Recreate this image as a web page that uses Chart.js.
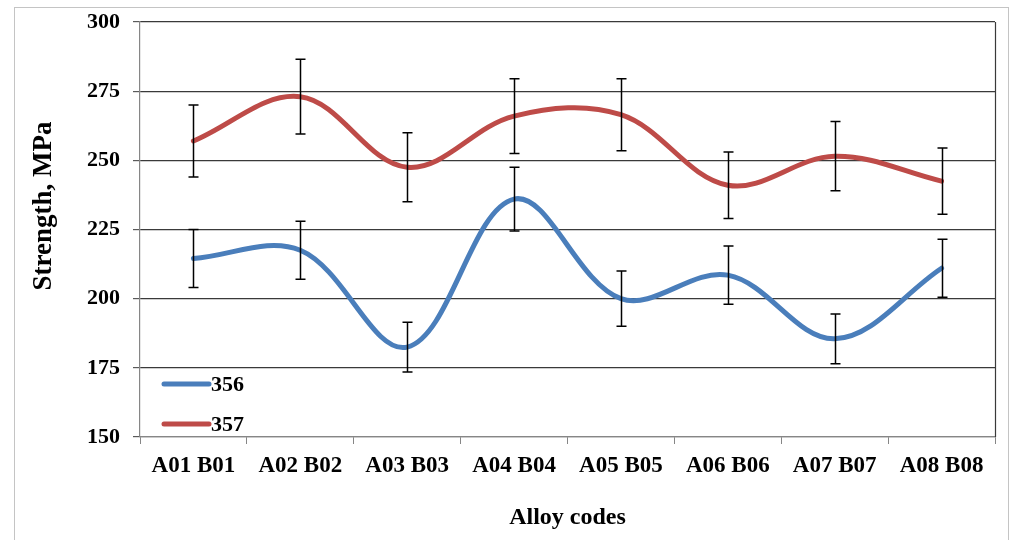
<!DOCTYPE html>
<html>
<head>
<meta charset="utf-8">
<title>Strength by alloy</title>
<script src="https://cdn.jsdelivr.net/npm/chart.js@4/dist/chart.umd.min.js"></script>
<style>
  html, body { margin: 0; padding: 0; background: #fff; }
  #wrap { width: 1013px; height: 540px; position: relative; }
</style>
</head>
<body>
<div id="wrap"><canvas id="chart" width="1013" height="540"></canvas></div>
<script>
// alloy pairs along the x axis
const alloyCodes = ["A01 B01", "A02 B02", "A03 B03", "A04 B04", "A05 B05", "A06 B06", "A07 B07", "A08 B08"];

// mean strength (MPa) and the +/- spread for each alloy
const strength356 = [214.5, 217.5, 182.5, 236, 200, 208.5, 185.5, 211];
const error356    = [10.5, 10.5, 9, 11.5, 10, 10.5, 9, 10.5];
const strength357 = [257, 273, 247.5, 266, 266.5, 241, 251.5, 242.5];
const error357    = [13, 13.5, 12.5, 13.5, 13, 12, 12.5, 12];

const yTicks = { min: 150, max: 300, step: 25 };
const yTitle = "Strength, MPa";
const xTitle = "Alloy codes";

const FONT = "'Liberation Serif', 'Times New Roman', serif";
const BLUE = "#4A7EBB";
const RED = "#BE4B48";

// frame, right edge, y title and the in-plot legend
const decorations = {
  id: "decorations",
  beforeDraw(chart) {
    const ctx = chart.ctx;
    ctx.save();
    ctx.fillStyle = "#fff";
    ctx.fillRect(0, 0, chart.width, chart.height);
    ctx.strokeStyle = "#c4c4c4";
    ctx.lineWidth = 1;
    ctx.strokeRect(14.5, 7.5, 994, chart.height);
    ctx.restore();
  },
  afterDraw(chart) {
    const ctx = chart.ctx;
    const area = chart.chartArea;
    ctx.save();
    ctx.strokeStyle = "#3a3a3a";
    ctx.lineWidth = 1.2;
    ctx.beginPath();
    ctx.moveTo(Math.round(area.right) + 0.5, area.top);
    ctx.lineTo(Math.round(area.right) + 0.5, area.bottom);
    ctx.stroke();

    ctx.fillStyle = "#000";
    ctx.font = "bold 27px " + FONT;
    ctx.textAlign = "center";
    ctx.textBaseline = "middle";
    ctx.translate(44, 206);
    ctx.rotate(-Math.PI / 2);
    ctx.fillText(yTitle, 0, 0);
    ctx.restore();

    // legend, one row per dataset
    ctx.save();
    ctx.font = "bold 22px " + FONT;
    ctx.textAlign = "left";
    ctx.textBaseline = "middle";
    chart.data.datasets.forEach((ds, i) => {
      const y = 384 + i * 40;
      ctx.strokeStyle = ds.borderColor;
      ctx.lineWidth = 5;
      ctx.lineCap = "round";
      ctx.beginPath();
      ctx.moveTo(164, y);
      ctx.lineTo(209, y);
      ctx.stroke();
      ctx.fillStyle = "#000";
      ctx.fillText(ds.label, 211, y + 1);
    });
    ctx.restore();
  },
  afterDatasetsDraw(chart) {
    const ctx = chart.ctx;
    const yScale = chart.scales.y;
    ctx.save();
    ctx.strokeStyle = "#000";
    ctx.lineWidth = 1.5;
    chart.data.datasets.forEach((ds, i) => {
      const meta = chart.getDatasetMeta(i);
      meta.data.forEach((pt, j) => {
        const v = ds.data[j];
        const e = ds.errors[j];
        const x = Math.round(pt.x) + 0.5;
        const top = yScale.getPixelForValue(v + e);
        const bot = yScale.getPixelForValue(v - e);
        ctx.beginPath();
        ctx.moveTo(x, top);
        ctx.lineTo(x, bot);
        ctx.moveTo(x - 5, top);
        ctx.lineTo(x + 5, top);
        ctx.moveTo(x - 5, bot);
        ctx.lineTo(x + 5, bot);
        ctx.stroke();
      });
    });
    ctx.restore();
  }
};

new Chart(document.getElementById("chart"), {
  type: "line",
  data: {
    labels: alloyCodes,
    datasets: [
      { label: "356", data: strength356, errors: error356, borderColor: BLUE, backgroundColor: BLUE },
      { label: "357", data: strength357, errors: error357, borderColor: RED, backgroundColor: RED }
    ]
  },
  options: {
    responsive: false,
    animation: false,
    layout: { padding: { left: 0, right: 18, top: 22, bottom: 0 } },
    elements: {
      line: { borderWidth: 5, tension: 0.36, borderCapStyle: "round" },
      point: { radius: 0, hoverRadius: 0 }
    },
    plugins: { legend: { display: false }, tooltip: { enabled: false } },
    scales: {
      x: {
        offset: true,
        afterFit(scale) { scale.height = 103; },
        grid: { offset: true, drawOnChartArea: false, drawTicks: true, tickLength: 7, color: "#868686" },
        border: { color: "#868686", width: 1.2 },
        ticks: { color: "#000", padding: 8, maxRotation: 0, font: { family: FONT, size: 23, weight: "bold" } },
        title: { display: true, text: xTitle, color: "#000", padding: { top: 4, bottom: 8 }, font: { family: FONT, size: 24, weight: "bold" } }
      },
      y: {
        min: yTicks.min,
        max: yTicks.max,
        afterFit(scale) {
          scale.width = 140;
          scale.paddingTop = 0;
          scale.paddingBottom = 0;
        },
        grid: {
          color: (c) => (c.tick && c.tick.value === yTicks.min ? "#868686" : "#3a3a3a"),
          lineWidth: 1.2,
          tickLength: 7,
          tickColor: "#5a5a5a"
        },
        border: { color: "#868686", width: 1.2 },
        ticks: { stepSize: yTicks.step, color: "#000", padding: 13, font: { family: FONT, size: 22, weight: "bold" } }
      }
    }
  },
  plugins: [decorations]
});
</script>
</body>
</html>
